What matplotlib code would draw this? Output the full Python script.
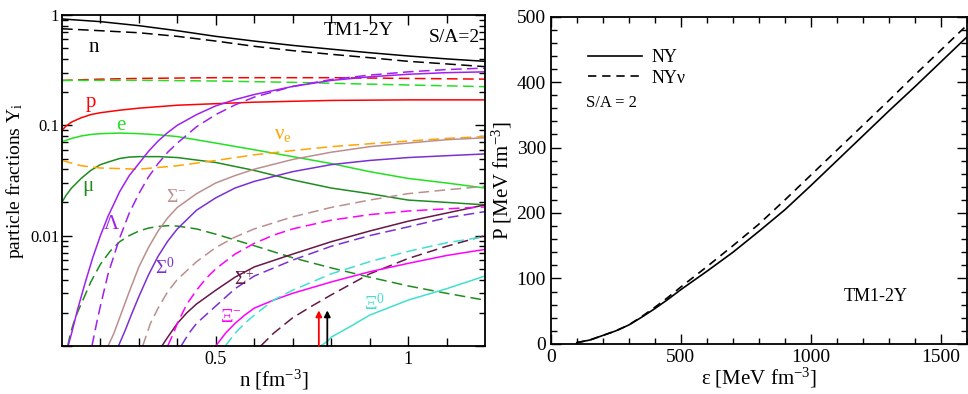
import numpy as np
import matplotlib
matplotlib.use("Agg")
import matplotlib.pyplot as plt
from matplotlib.ticker import FixedLocator, NullFormatter, MultipleLocator, FixedFormatter

plt.rcParams['font.family'] = ['Liberation Serif', 'DejaVu Serif']
plt.rcParams['mathtext.fontset'] = 'custom'
plt.rcParams['mathtext.rm'] = 'Liberation Serif'
plt.rcParams['mathtext.it'] = 'Liberation Serif:italic'
plt.rcParams['mathtext.bf'] = 'Liberation Serif:bold'

# ---------------- left panel data: particle fractions vs n ----------------
n_solid_x = [0.1, 0.2, 0.3, 0.4, 0.5, 0.6, 0.7, 0.8, 0.9, 1.0, 1.1, 1.2]
n_solid_y = [0.92, 0.87, 0.80, 0.72, 0.64, 0.58, 0.53, 0.49, 0.455, 0.425, 0.40, 0.38]
n_dash_x = [0.1, 0.2, 0.3, 0.4, 0.5, 0.6, 0.7, 0.8, 0.9, 1.0, 1.1, 1.2]
n_dash_y = [0.75, 0.72, 0.69, 0.64, 0.58, 0.52, 0.475, 0.44, 0.41, 0.38, 0.36, 0.34]

p_solid_x = [0.1, 0.11, 0.125, 0.15, 0.175, 0.2, 0.25, 0.3, 0.4, 0.5, 0.6, 0.7, 0.8, 0.9, 1.0, 1.2]
p_solid_y = [0.09, 0.098, 0.107, 0.117, 0.125, 0.13, 0.137, 0.143, 0.152, 0.157, 0.162, 0.165, 0.168, 0.169, 0.170, 0.170]
p_dash_x = [0.1, 0.2, 0.3, 0.4, 0.5, 0.6, 0.7, 0.8, 0.9, 1.0, 1.1, 1.2]
p_dash_y = [0.255, 0.262, 0.266, 0.268, 0.27, 0.27, 0.27, 0.27, 0.268, 0.266, 0.264, 0.262]

e_solid_x = [0.1, 0.125, 0.15, 0.175, 0.2, 0.25, 0.3, 0.35, 0.4, 0.5, 0.6, 0.7, 0.8, 0.9, 1.0, 1.1, 1.2]
e_solid_y = [0.071, 0.076, 0.080, 0.0825, 0.084, 0.085, 0.084, 0.082, 0.079, 0.069, 0.060, 0.052, 0.045, 0.038, 0.033, 0.030, 0.027]
e_dash_x = [0.1, 0.3, 0.5, 0.7, 0.9, 1.0, 1.2]
e_dash_y = [0.255, 0.256, 0.252, 0.245, 0.236, 0.232, 0.224]

mu_solid_x = [0.1, 0.11, 0.125, 0.15, 0.175, 0.2, 0.225, 0.25, 0.275, 0.3, 0.35, 0.4, 0.5, 0.6, 0.7, 0.8, 0.9, 1.0, 1.1, 1.2]
mu_solid_y = [0.020, 0.023, 0.027, 0.033, 0.039, 0.044, 0.047, 0.050, 0.0515, 0.052, 0.052, 0.051, 0.046, 0.039, 0.032, 0.027, 0.024, 0.021, 0.020, 0.019]
mu_dash_x = [0.115, 0.122, 0.13, 0.14, 0.15, 0.175, 0.2, 0.225, 0.25, 0.275, 0.3, 0.325, 0.35, 0.375, 0.4, 0.45, 0.5, 0.6, 0.7, 0.8, 0.9, 1.0, 1.1, 1.2]
mu_dash_y = [0.001, 0.0013, 0.0016, 0.0020, 0.0024, 0.0038, 0.0055, 0.0072, 0.0088, 0.010, 0.011, 0.0117, 0.0121, 0.0123, 0.0122, 0.0115, 0.0103, 0.0081, 0.0063, 0.0051, 0.0042, 0.0035, 0.0030, 0.0026]

nu_dash_x = [0.1, 0.15, 0.2, 0.3, 0.4, 0.5, 0.6, 0.7, 0.8, 0.9, 1.0, 1.1, 1.2]
nu_dash_y = [0.048, 0.043, 0.041, 0.040, 0.043, 0.048, 0.054, 0.059, 0.064, 0.068, 0.072, 0.076, 0.079]

lam_solid_x = [0.116, 0.125, 0.14, 0.16, 0.18, 0.2, 0.22, 0.25, 0.275, 0.3, 0.325, 0.35, 0.375, 0.4, 0.45, 0.5, 0.55, 0.6, 0.7, 0.8, 0.9, 1.0, 1.1, 1.2]
lam_solid_y = [0.001, 0.0013, 0.0021, 0.0037, 0.0063, 0.010, 0.015, 0.025, 0.035, 0.045, 0.058, 0.072, 0.086, 0.10, 0.125, 0.150, 0.171, 0.190, 0.225, 0.255, 0.275, 0.29, 0.30, 0.305]
lam_dash_x = [0.178, 0.19, 0.2, 0.22, 0.25, 0.275, 0.3, 0.325, 0.35, 0.375, 0.4, 0.45, 0.5, 0.55, 0.6, 0.7, 0.8, 0.9, 1.0, 1.1, 1.2]
lam_dash_y = [0.001, 0.0016, 0.0023, 0.0045, 0.0095, 0.016, 0.024, 0.034, 0.045, 0.057, 0.069, 0.097, 0.125, 0.153, 0.180, 0.225, 0.26, 0.285, 0.305, 0.32, 0.33]

sigm_solid_x = [0.22, 0.235, 0.25, 0.275, 0.3, 0.325, 0.35, 0.375, 0.4, 0.45, 0.5, 0.55, 0.6, 0.7, 0.8, 0.9, 1.0, 1.1, 1.2]
sigm_solid_y = [0.001, 0.0013, 0.0018, 0.0031, 0.0052, 0.0078, 0.011, 0.0145, 0.018, 0.024, 0.030, 0.035, 0.040, 0.049, 0.057, 0.064, 0.069, 0.074, 0.077]
sigm_dash_x = [0.31, 0.33, 0.35, 0.375, 0.4, 0.45, 0.5, 0.55, 0.6, 0.7, 0.8, 0.9, 1.0, 1.1, 1.2]
sigm_dash_y = [0.001, 0.0016, 0.0022, 0.0031, 0.0040, 0.0058, 0.0078, 0.0097, 0.0115, 0.0148, 0.018, 0.021, 0.024, 0.026, 0.028]

sig0_solid_x = [0.247, 0.265, 0.28, 0.3, 0.325, 0.35, 0.375, 0.4, 0.45, 0.5, 0.55, 0.6, 0.7, 0.8, 0.9, 1.0, 1.1, 1.2]
sig0_solid_y = [0.001, 0.0014, 0.0019, 0.0028, 0.0044, 0.0065, 0.0089, 0.0115, 0.017, 0.022, 0.027, 0.031, 0.038, 0.044, 0.048, 0.051, 0.053, 0.055]
sig0_dash_x = [0.41, 0.43, 0.45, 0.5, 0.55, 0.6, 0.7, 0.8, 0.9, 1.0, 1.1, 1.2]
sig0_dash_y = [0.001, 0.0013, 0.0016, 0.0023, 0.0033, 0.0043, 0.0060, 0.0080, 0.010, 0.012, 0.0145, 0.0165]

sigp_solid_x = [0.36, 0.375, 0.4, 0.425, 0.45, 0.5, 0.55, 0.6, 0.7, 0.8, 0.9, 1.0, 1.1, 1.2]
sigp_solid_y = [0.001, 0.0012, 0.0016, 0.0020, 0.0024, 0.0032, 0.0042, 0.0052, 0.0068, 0.0088, 0.011, 0.0135, 0.016, 0.019]
sigp_dash_x = [0.617, 0.65, 0.7, 0.75, 0.8, 0.9, 1.0, 1.1, 1.2]
sigp_dash_y = [0.001, 0.0013, 0.0018, 0.0023, 0.0029, 0.0045, 0.0062, 0.0080, 0.0100]

xim_solid_x = [0.5, 0.525, 0.55, 0.575, 0.6, 0.65, 0.7, 0.8, 0.9, 1.0, 1.1, 1.2]
xim_solid_y = [0.001, 0.0013, 0.0016, 0.0019, 0.0022, 0.0026, 0.0030, 0.0038, 0.0047, 0.0056, 0.0066, 0.0075]
xim_dash_x = [0.375, 0.39, 0.4, 0.425, 0.45, 0.475, 0.5, 0.55, 0.6, 0.65, 0.7, 0.8, 0.9, 1.0, 1.1, 1.2]
xim_dash_y = [0.001, 0.0013, 0.0016, 0.0024, 0.0032, 0.0041, 0.0050, 0.0068, 0.0085, 0.0101, 0.0115, 0.0138, 0.0155, 0.0167, 0.0175, 0.0182]

xi0_solid_x = [0.773, 0.79, 0.8, 0.85, 0.9, 1.0, 1.1, 1.2]
xi0_solid_y = [0.001, 0.0011, 0.0012, 0.0015, 0.0019, 0.0026, 0.0033, 0.0043]
xi0_dash_x = [0.525, 0.55, 0.575, 0.6, 0.65, 0.7, 0.8, 0.9, 1.0, 1.1, 1.2]
xi0_dash_y = [0.001, 0.0013, 0.0016, 0.0019, 0.0026, 0.0032, 0.0045, 0.0058, 0.0072, 0.0086, 0.0098]

arrow_n = [0.768, 0.79]
arrow_colors = ['red', 'black']
arrow_bottom = 0.001
arrow_top = 0.0021

# ---------------- right panel data: P vs epsilon ----------------
eps_ny = [100, 150, 200, 250, 300, 350, 400, 450, 500, 600, 700, 800, 900, 1000, 1100, 1200, 1300, 1400, 1500, 1600]
P_ny = [2, 6, 13, 20, 29, 41, 54, 68, 83, 111, 140, 172, 205, 242, 280, 318, 356, 393, 431, 469]
eps_nynu = [100, 150, 200, 250, 300, 350, 400, 450, 500, 600, 700, 800, 900, 1000, 1100, 1200, 1300, 1400, 1500, 1600]
P_nynu = [2, 6, 13, 20, 29, 42, 56, 71, 87, 118, 150, 183, 220, 258, 296, 334, 372, 411, 449, 487]

# colours
C_N = 'black'
C_P = '#ff0000'
C_E = '#22e022'
C_MU = '#1e8c1e'
C_NU = '#ffa500'
C_LAM = '#a020f0'
C_SIGM = '#bc8f8f'
C_SIG0 = '#7a30d2'
C_SIGP = '#661848'
C_XIM = '#ff00ff'
C_XI0 = '#40e0d0'

fig = plt.figure(figsize=(9.68, 3.94), dpi=100)
ax1 = fig.add_axes([0.064, 0.122, 0.437, 0.840])
ax2 = fig.add_axes([0.569, 0.127, 0.430, 0.831])

lw = 1.1
dash = (7, 3.5)

def solid(x, y, c):
    ax1.plot(x, y, color=c, lw=lw, solid_capstyle='butt', solid_joinstyle='round')

def dashed(x, y, c):
    ax1.plot(x, y, color=c, lw=lw, linestyle=(0, dash))

solid(n_solid_x, n_solid_y, C_N); dashed(n_dash_x, n_dash_y, C_N)
solid(p_solid_x, p_solid_y, C_P); dashed(p_dash_x, p_dash_y, C_P)
solid(e_solid_x, e_solid_y, C_E); dashed(e_dash_x, e_dash_y, C_E)
solid(mu_solid_x, mu_solid_y, C_MU); dashed(mu_dash_x, mu_dash_y, C_MU)
dashed(nu_dash_x, nu_dash_y, C_NU)
solid(lam_solid_x, lam_solid_y, C_LAM); dashed(lam_dash_x, lam_dash_y, C_LAM)
solid(sigm_solid_x, sigm_solid_y, C_SIGM); dashed(sigm_dash_x, sigm_dash_y, C_SIGM)
solid(sig0_solid_x, sig0_solid_y, C_SIG0); dashed(sig0_dash_x, sig0_dash_y, C_SIG0)
solid(sigp_solid_x, sigp_solid_y, C_SIGP); dashed(sigp_dash_x, sigp_dash_y, C_SIGP)
solid(xim_solid_x, xim_solid_y, C_XIM); dashed(xim_dash_x, xim_dash_y, C_XIM)
solid(xi0_solid_x, xi0_solid_y, C_XI0); dashed(xi0_dash_x, xi0_dash_y, C_XI0)

for xa, ca in zip(arrow_n, arrow_colors):
    ax1.annotate('', xy=(xa, arrow_top), xytext=(xa, arrow_bottom),
                 arrowprops=dict(arrowstyle='-|>', color=ca, lw=1.3,
                                 mutation_scale=9, shrinkA=0, shrinkB=0))

ax1.set_yscale('log')
ax1.set_xlim(0.1, 1.2)
ax1.set_ylim(0.001, 1)
ax1.yaxis.set_major_locator(FixedLocator([0.001, 0.01, 0.1, 1]))
ax1.yaxis.set_major_formatter(FixedFormatter(['', '0.01', '0.1', '1']))
ax1.yaxis.set_minor_locator(FixedLocator([m * 10.0**k for k in (-3, -2, -1) for m in range(2, 10)]))
ax1.yaxis.set_minor_formatter(NullFormatter())
ax1.xaxis.set_major_locator(FixedLocator([0.5, 1.0]))
ax1.xaxis.set_major_formatter(FixedFormatter(['0.5', '1']))
ax1.xaxis.set_minor_locator(FixedLocator([0.2, 0.3, 0.4, 0.6, 0.7, 0.8, 0.9, 1.1]))
ax1.tick_params(which='both', direction='in', top=True, right=True, width=1.0)
ax1.tick_params(axis='x', which='major', length=7, labelsize=13)
ax1.tick_params(axis='y', which='major', length=7, labelsize=12, pad=2)
ax1.tick_params(which='minor', length=4)
ax1.tick_params(axis='x', which='minor', length=6)
for s in ax1.spines.values():
    s.set_linewidth(1.3)
ax1.set_xlabel('n [fm$^{-3}$]', fontsize=15, labelpad=0)
ax1.set_ylabel('particle fractions Y$_\\mathrm{i}$', fontsize=14, labelpad=3)

ax1.text(0.182, 0.51, 'n', color=C_N, fontsize=15, ha='center', va='center')
ax1.text(0.872, 0.73, 'TM1-2Y', color='black', fontsize=14, ha='center', va='center')
ax1.text(1.12, 0.63, 'S/A=2', color='black', fontsize=14, ha='center', va='center')
ax1.text(0.175, 0.16, 'p', color=C_P, fontsize=15, ha='center', va='center')
ax1.text(0.253, 0.10, 'e', color=C_E, fontsize=15, ha='center', va='center')
ax1.text(0.675, 0.082, 'ν$_\\mathrm{e}$', color=C_NU, fontsize=15, ha='center', va='center')
ax1.text(0.167, 0.028, 'μ', color=C_MU, fontsize=15, ha='center', va='center')
ax1.text(0.229, 0.0126, 'Λ', color=C_LAM, fontsize=15, ha='center', va='center')
ax1.text(0.398, 0.022, 'Σ$^{-}$', color=C_SIGM, fontsize=14, ha='center', va='center')
ax1.text(0.367, 0.0051, 'Σ$^{0}$', color=C_SIG0, fontsize=14, ha='center', va='center')
ax1.text(0.575, 0.0040, 'Σ$^{+}$', color=C_SIGP, fontsize=14, ha='center', va='center')
ax1.text(0.54, 0.0018, 'Ξ$^{-}$', color=C_XIM, fontsize=14, ha='center', va='center')
ax1.text(0.913, 0.0024, 'Ξ$^{0}$', color=C_XI0, fontsize=14, ha='center', va='center')

# ---------------- right panel ----------------
ax2.plot(eps_ny, P_ny, color='black', lw=1.2, label='NY')
ax2.plot(eps_nynu, P_nynu, color='black', lw=1.2, linestyle=(0, (5, 3.5)), label='NYν')
ax2.set_xlim(0, 1600)
ax2.set_ylim(0, 500)
ax2.xaxis.set_major_locator(MultipleLocator(500))
ax2.xaxis.set_minor_locator(MultipleLocator(100))
ax2.yaxis.set_major_locator(MultipleLocator(100))
ax2.yaxis.set_minor_locator(MultipleLocator(20))
ax2.tick_params(which='both', direction='in', top=True, right=True, width=1.0)
ax2.tick_params(which='major', length=7, labelsize=14)
ax2.tick_params(which='minor', length=4)
for s in ax2.spines.values():
    s.set_linewidth(1.3)
ax2.set_xlabel('ε [MeV fm$^{-3}$]', fontsize=15, labelpad=0)
ax2.set_ylabel('P [MeV fm$^{-3}$]', fontsize=15, labelpad=2)
leg = ax2.legend(loc='upper left', bbox_to_anchor=(0.05, 0.95), frameon=False,
                 fontsize=13, handlelength=3.0, handletextpad=0.5, labelspacing=0.2)
ax2.text(0.085, 0.735, 'S/A = 2', transform=ax2.transAxes, fontsize=12, ha='left', va='center')
ax2.text(0.78, 0.145, 'TM1-2Y', transform=ax2.transAxes, fontsize=13, ha='center', va='center')

fig.savefig('out.png', dpi=100)
